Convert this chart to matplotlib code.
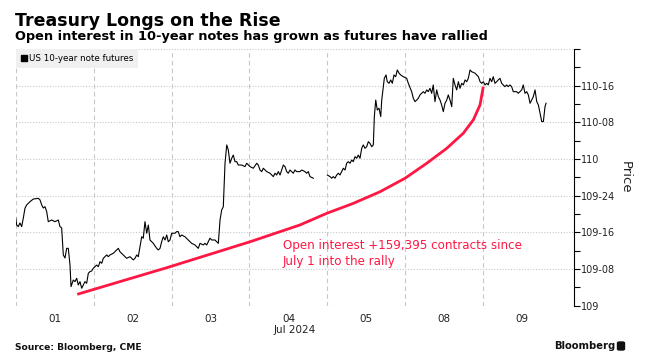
import matplotlib.pyplot as plt
from matplotlib.patches import FancyBboxPatch, Rectangle
from matplotlib.ticker import FixedLocator, FuncFormatter, MultipleLocator
import numpy as np

# Trading sessions on the x axis (Jul 4 was a short holiday session)
session_labels = ["01", "02", "03", "04", "05", "08", "09"]
session_bounds = [0, 1, 2, 3, 4, 5, 6]

# US 10-year note futures: time in sessions since Jul 1 open, price in points
t = [
    # Jul 01
    0.000, 0.013, 0.033, 0.055, 0.077, 0.098, 0.119, 0.141, 0.162, 0.183, 0.226,
    0.290, 0.312, 0.334, 0.354, 0.376, 0.398, 0.418, 0.462, 0.504, 0.547, 0.568,
    0.590, 0.611, 0.633, 0.654, 0.675, 0.697, 0.710, 0.739, 0.761, 0.783, 0.803,
    0.825, 0.847, 0.867, 0.889, 0.911, 0.932, 0.953, 0.975, 0.996,
    # Jul 02
    1.018, 1.039, 1.060, 1.082, 1.104, 1.124, 1.168, 1.188, 1.210, 1.252, 1.296,
    1.317, 1.338, 1.381, 1.403, 1.424, 1.467, 1.509, 1.531, 1.553, 1.573, 1.595,
    1.617, 1.637, 1.659, 1.681, 1.702, 1.723, 1.766, 1.809, 1.830, 1.852, 1.873,
    1.894, 1.916, 1.938, 1.958, 1.980,
    # Jul 03
    2.002, 2.044, 2.066, 2.086, 2.108, 2.130, 2.172, 2.215, 2.258, 2.301, 2.343,
    2.365, 2.407, 2.429, 2.451, 2.493, 2.515, 2.557, 2.600, 2.622, 2.643, 2.664,
    2.675, 2.686, 2.708, 2.728, 2.750, 2.772, 2.792, 2.814, 2.836, 2.856, 2.900,
    2.942, 2.964,
    # Jul 04
    3.007, 3.049, 3.093, 3.113, 3.135, 3.157, 3.177, 3.221, 3.263, 3.306, 3.327,
    3.349, 3.370, 3.392, 3.413, 3.434, 3.456, 3.477, 3.498, 3.520, 3.542, 3.562,
    3.584, 3.606, 3.648, 3.670, 3.712, 3.734, 3.755, 3.776, 3.819, 3.900,
    # Jul 05
    3.999, 4.033, 4.055, 4.075, 4.097, 4.119, 4.140, 4.161, 4.183, 4.204, 4.226,
    4.247, 4.268, 4.290, 4.312, 4.332, 4.354, 4.376, 4.396, 4.418, 4.440, 4.460,
    4.482, 4.504, 4.525, 4.546, 4.568, 4.589, 4.602, 4.620, 4.640, 4.662, 4.684,
    4.697, 4.717, 4.730, 4.752, 4.768, 4.790, 4.812, 4.833, 4.854, 4.876, 4.897,
    4.919, 4.940, 4.974,
    # Jul 08
    5.017, 5.038, 5.081, 5.102, 5.124, 5.146, 5.166, 5.188, 5.210, 5.230, 5.252,
    5.274, 5.294, 5.316, 5.338, 5.358, 5.380, 5.402, 5.423, 5.445, 5.466, 5.487,
    5.509, 5.531, 5.551, 5.573, 5.595, 5.615, 5.637, 5.659, 5.680, 5.701, 5.723,
    5.744, 5.766, 5.787, 5.808, 5.830, 5.852, 5.894, 5.937, 5.959, 5.980,
    # Jul 09
    6.000, 6.022, 6.044, 6.064, 6.086, 6.108, 6.128, 6.150, 6.172, 6.192, 6.214,
    6.236, 6.256, 6.278, 6.300, 6.320, 6.342, 6.364, 6.385, 6.429, 6.449, 6.471,
    6.493, 6.513, 6.535, 6.557, 6.578, 6.600, 6.621, 6.642, 6.664, 6.686, 6.707,
    6.728, 6.750, 6.771, 6.792, 6.805,
]
price = [
    # Jul 01
    109.598, 109.550, 109.539, 109.564, 109.539, 109.598, 109.664, 109.687, 109.698, 109.709, 109.727,
    109.732, 109.721, 109.687, 109.666, 109.675, 109.641, 109.573, 109.584, 109.573, 109.584, 109.539,
    109.530, 109.346, 109.325, 109.391, 109.391, 109.277, 109.130, 109.175, 109.164, 109.187, 109.141,
    109.164, 109.119, 109.141, 109.164, 109.153, 109.221, 109.232, 109.237, 109.255,
    # Jul 02
    109.266, 109.277, 109.266, 109.300, 109.289, 109.323, 109.346, 109.334, 109.346, 109.357, 109.380,
    109.391, 109.368, 109.346, 109.334, 109.323, 109.334, 109.312, 109.323, 109.346, 109.334, 109.402,
    109.470, 109.460, 109.573, 109.494, 109.550, 109.448, 109.425, 109.391, 109.380, 109.391, 109.436,
    109.470, 109.448, 109.482, 109.436, 109.448,
    # Jul 03
    109.494, 109.494, 109.505, 109.505, 109.470, 109.482, 109.470, 109.448, 109.425, 109.414, 109.391,
    109.425, 109.414, 109.425, 109.414, 109.460, 109.448, 109.448, 109.425, 109.584, 109.652, 109.675,
    109.823, 109.971, 110.096, 110.062, 109.971, 110.005, 110.027, 109.982, 109.982, 109.959, 109.959,
    109.948, 109.971,
    # Jul 04
    109.948, 109.937, 109.971, 109.959, 109.925, 109.914, 109.937, 109.914, 109.903, 109.880, 109.903,
    109.891, 109.914, 109.891, 109.925, 109.959, 109.948, 109.914, 109.903, 109.925, 109.914, 109.903,
    109.925, 109.914, 109.914, 109.925, 109.914, 109.903, 109.914, 109.880, 109.869, np.nan,
    # Jul 05
    109.891, 109.880, 109.869, 109.880, 109.869, 109.891, 109.903, 109.891, 109.914, 109.937, 109.925,
    109.971, 109.982, 109.971, 109.993, 109.982, 110.016, 110.005, 110.027, 110.005, 110.073, 110.096,
    110.073, 110.084, 110.118, 110.107, 110.084, 110.096, 110.289, 110.402, 110.334, 110.346, 110.289,
    110.402, 110.493, 110.550, 110.573, 110.527, 110.516, 110.539, 110.516, 110.573, 110.561, 110.607,
    110.585, 110.573, 110.561,
    # Jul 08
    110.550, 110.516, 110.459, 110.414, 110.391, 110.402, 110.414, 110.437, 110.448, 110.459, 110.448,
    110.471, 110.459, 110.482, 110.448, 110.505, 110.391, 110.471, 110.425, 110.402, 110.368, 110.323,
    110.380, 110.402, 110.437, 110.402, 110.357, 110.550, 110.505, 110.471, 110.527, 110.482, 110.516,
    110.505, 110.539, 110.527, 110.550, 110.607, 110.595, 110.585, 110.561, 110.527, 110.516,
    # Jul 09
    110.527, 110.505, 110.516, 110.505, 110.550, 110.527, 110.561, 110.516, 110.527, 110.539, 110.550,
    110.516, 110.505, 110.493, 110.505, 110.493, 110.505, 110.493, 110.459, 110.459, 110.448, 110.459,
    110.471, 110.505, 110.448, 110.459, 110.437, 110.380, 110.402, 110.425, 110.471, 110.391, 110.368,
    110.312, 110.255, 110.255, 110.357, 110.380,
]

# Open interest gained since Jul 1 (contracts), drawn as the red "rally" curve
oi_t = [0.790, 1.938, 3.007, 3.648, 3.991, 4.332, 4.675, 4.996, 5.274, 5.531,
        5.744, 5.872, 5.958, 6.000]
oi_change = [0, 20400, 40330, 53240, 62160, 69810, 78740, 89100, 100580, 112060,
             123690, 133890, 145370, 159395]

plt.rcParams["font.family"] = ["DejaVu Sans"]
red = "#ff1744"

fig = plt.figure(figsize=(6.51, 3.61), dpi=100)
ax = fig.add_axes([0.0241, 0.1532, 0.8581, 0.7111])

# open interest curve on a hidden secondary scale (twinx first, it resets ax ticks)
ax2 = ax.twinx()
ax2.plot(oi_t, oi_change, color=red, lw=2.0, solid_capstyle="butt", zorder=4)
ax2.set_ylim(-8753, 188341)
ax2.axis("off")

ax.plot(t, price, color="black", lw=0.8, zorder=3)

ax.set_xlim(0, 7.168)
ax.set_ylim(109, 110.75)


# y axis on the right, quoted in 32nds
def fmt_32(v, pos):
    if v >= 110.74:
        return ""
    whole = int(np.floor(v + 1e-9))
    n32 = int(round((v - whole) * 32))
    return f"{whole}" if n32 == 0 else f"{whole}-{n32:02d}"


ax.yaxis.tick_right()
ax.yaxis.set_label_position("right")
ax.yaxis.set_major_locator(MultipleLocator(0.25))
ax.yaxis.set_minor_locator(MultipleLocator(0.125))
ax.yaxis.set_major_formatter(FuncFormatter(fmt_32))
ax.tick_params(axis="y", which="both", direction="out", length=4, width=0.8,
               pad=1, labelsize=7, colors="black", labelcolor="#222222",
               left=False, labelleft=False, right=True, labelright=True)
ax.set_ylabel("Price", rotation=270, fontsize=9.5, labelpad=12, color="#222222")

ax.xaxis.set_major_locator(FixedLocator([b + 0.5 for b in session_bounds]))
ax.xaxis.set_major_formatter(FuncFormatter(lambda v, pos: session_labels[pos]))
ax.xaxis.set_minor_locator(FixedLocator(session_bounds))
ax.tick_params(axis="x", which="both", length=0, pad=6, labelsize=7.5, labelcolor="#222222")
ax.set_xlabel("Jul 2024", fontsize=7.5, labelpad=1, color="#222222")

ax.grid(axis="y", which="major", color="#c8c8c8", ls=(0, (1, 1.5)), lw=0.8)
ax.grid(axis="x", which="minor", color="#c8c8c8", ls=(0, (4, 3)), lw=0.8)
for side in ["left", "top", "bottom"]:
    ax.spines[side].set_visible(False)
ax.spines["right"].set_linewidth(0.8)

leg = ax.legend(handles=[Rectangle((0, 0), 1, 1, color="black")],
                labels=["US 10-year note futures"],
                loc="upper left", bbox_to_anchor=(0, 1), borderaxespad=0,
                fontsize=6.3, frameon=True, fancybox=False, handlelength=0.75,
                handleheight=0.75, handletextpad=0.25, borderpad=0.55)
leg.get_frame().set_facecolor("#f0f0f0")
leg.get_frame().set_edgecolor("none")
leg.get_frame().set_alpha(1)

ax.text(3.426, 109.357, "Open interest +159,395 contracts since\nJuly 1 into the rally",
        color=red, fontsize=8.55, va="center", ha="left", linespacing=1.35)

fig.text(15 / 651, 1 - 25.5 / 361, "Treasury Longs on the Rise", fontsize=12.5,
         fontweight="bold", va="baseline", ha="left")
fig.text(15 / 651, 1 - 40 / 361,
         "Open interest in 10-year notes has grown as futures have rallied",
         fontsize=9.3, fontweight="bold", va="baseline", ha="left")
fig.text(15 / 651, 1 - 350 / 361, "Source: Bloomberg, CME", fontsize=6.6,
         fontweight="bold", va="baseline", ha="left", color="#111111")
fig.text(615 / 651, 1 - 349 / 361, "Bloomberg", fontsize=7.2, fontweight="bold",
         va="baseline", ha="right", color="#111111")
fig.patches.append(FancyBboxPatch((617.5 / 651, 1 - 350 / 361), 7 / 651, 8 / 361,
                                  boxstyle="round,pad=0,rounding_size=0.003",
                                  transform=fig.transFigure, color="#111111"))

fig.savefig("out.png", dpi=100, facecolor="white")
